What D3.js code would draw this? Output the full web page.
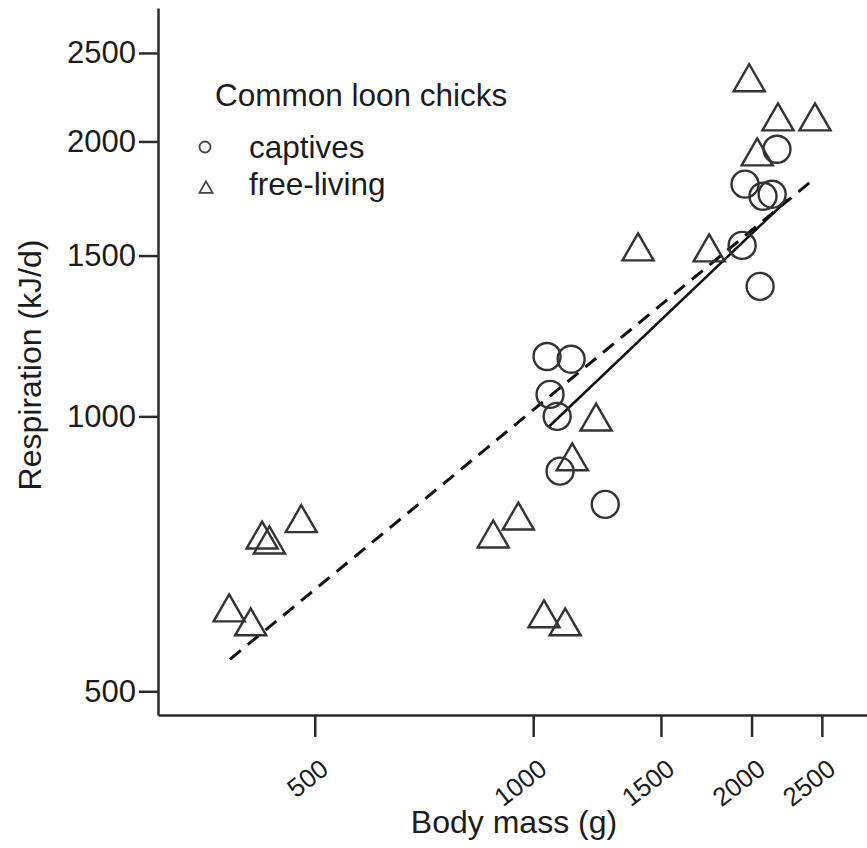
<!DOCTYPE html>
<html>
<head>
<meta charset="utf-8">
<script src="https://cdn.jsdelivr.net/npm/d3@7/dist/d3.min.js"></script>
<style>
  body { margin: 0; background: #fff; }
  svg text { font-family: "Liberation Sans", Arial, sans-serif; fill: #1c1c1c; }
</style>
</head>
<body>
<div id="chart"></div>
<script>
// captives (circles): body mass (g), respiration (kJ/d)
var captiveMass = [1045, 1128, 1055, 1079, 1089, 1257, 2168, 1959, 2074, 2135, 1941, 2055];
var captiveResp = [1163, 1155, 1057, 1000, 871, 801, 1961, 1796, 1742, 1751, 1539, 1388];

// free-living (triangles)
var freeMass = [381, 408, 423, 433, 479, 881, 954, 1035, 1107, 1132, 1221, 1395, 1748, 1985, 2175, 2446, 2036];
var freeResp = [610, 589, 733, 724, 764, 735, 769, 601, 589, 893, 987, 1516, 1512, 2322, 2104, 2104, 1926];

// fitted lines, [start, end]
var solidMass = [1049, 2245];
var solidResp = [973, 1729];
var dashMass = [382, 2407];
var dashResp = [542, 1804];

var xTicks = [500, 1000, 1500, 2000, 2500];
var yTicks = [500, 1000, 1500, 2000, 2500];

var width = 867, height = 848;

var svg = d3.select("#chart").append("svg")
    .attr("width", width)
    .attr("height", height);

var x = d3.scaleLog().domain([304, 2885]).range([158, 867]);
var y = d3.scaleLog().domain([471, 2800]).range([715, 8]);

// y axis
var yAxis = svg.append("g")
    .attr("transform", "translate(158,0)")
    .call(d3.axisLeft(y).tickValues(yTicks).tickFormat(d3.format("d"))
        .tickSize(19).tickSizeOuter(0).tickPadding(3));
yAxis.select(".domain").attr("stroke", "#2a2a2a").attr("stroke-width", 2.5);
yAxis.selectAll(".tick line").attr("stroke", "#2a2a2a").attr("stroke-width", 2.5);
yAxis.selectAll(".tick text").attr("font-size", 31).attr("fill", "#1c1c1c");

// x axis
var xAxis = svg.append("g")
    .attr("transform", "translate(0,715)")
    .call(d3.axisBottom(x).tickValues(xTicks).tickFormat(d3.format("d"))
        .tickSize(22).tickSizeOuter(0));
xAxis.select(".domain").attr("stroke", "#2a2a2a").attr("stroke-width", 2.5);
xAxis.selectAll(".tick line").attr("stroke", "#2a2a2a").attr("stroke-width", 2.5);
xAxis.selectAll(".tick text")
    .attr("font-size", 26)
    .attr("fill", "#1c1c1c")
    .attr("y", 0)
    .attr("dy", 0)
    .attr("text-anchor", "end")
    .attr("transform", "translate(15,57) rotate(-38)");

// axis titles
svg.append("text")
    .attr("transform", "translate(41,365) rotate(-90)")
    .attr("text-anchor", "middle")
    .attr("font-size", 32)
    .text("Respiration (kJ/d)");

svg.append("text")
    .attr("x", 514)
    .attr("y", 833)
    .attr("text-anchor", "middle")
    .attr("font-size", 32)
    .text("Body mass (g)");

// regression lines
var line = d3.line()
    .x(function(d) { return x(d[0]); })
    .y(function(d) { return y(d[1]); });

svg.append("path")
    .datum(d3.zip(dashMass, dashResp))
    .attr("d", line)
    .attr("fill", "none")
    .attr("stroke", "#111")
    .attr("stroke-width", 3)
    .attr("stroke-dasharray", "14,9");

svg.append("path")
    .datum(d3.zip(solidMass, solidResp))
    .attr("d", line)
    .attr("fill", "none")
    .attr("stroke", "#111")
    .attr("stroke-width", 2.5);

// points
var tri = d3.symbol().type(d3.symbolTriangle).size(420);

svg.append("g").selectAll("path")
    .data(d3.zip(freeMass, freeResp))
    .enter().append("path")
    .attr("d", tri)
    .attr("transform", function(d) { return "translate(" + x(d[0]) + "," + y(d[1]) + ")"; })
    .attr("fill", "none")
    .attr("stroke", "#333")
    .attr("stroke-width", 2.4);

svg.append("g").selectAll("circle")
    .data(d3.zip(captiveMass, captiveResp))
    .enter().append("circle")
    .attr("cx", function(d) { return x(d[0]); })
    .attr("cy", function(d) { return y(d[1]); })
    .attr("r", 13.5)
    .attr("fill", "none")
    .attr("stroke", "#333")
    .attr("stroke-width", 2.4);

// legend
var legend = svg.append("g");
legend.append("text")
    .attr("x", 215).attr("y", 106)
    .attr("font-size", 31.5)
    .text("Common loon chicks");

legend.append("circle")
    .attr("cx", 205).attr("cy", 147).attr("r", 5.5)
    .attr("fill", "none").attr("stroke", "#444").attr("stroke-width", 1.8);
legend.append("path")
    .attr("d", d3.symbol().type(d3.symbolTriangle).size(75))
    .attr("transform", "translate(206,189)")
    .attr("fill", "none").attr("stroke", "#444").attr("stroke-width", 1.8);

legend.append("text")
    .attr("x", 249).attr("y", 158)
    .attr("font-size", 31.5)
    .text("captives");
legend.append("text")
    .attr("x", 249).attr("y", 195)
    .attr("font-size", 31.5)
    .text("free-living");
</script>
</body>
</html>
